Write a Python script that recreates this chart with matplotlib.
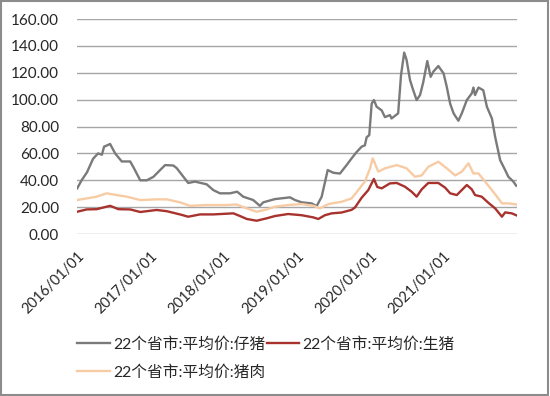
import matplotlib
matplotlib.use("Agg")
import matplotlib.pyplot as plt
import matplotlib.dates as mdates
from matplotlib.patches import Rectangle
import numpy as np

# 22个省市 平均价 (元/公斤)
piglet_dates = ["2016-01-02", "2016-01-24", "2016-02-20", "2016-03-21", "2016-04-15", "2016-05-04",
                "2016-05-15", "2016-06-14", "2016-07-09", "2016-08-11", "2016-09-22", "2016-10-07",
                "2016-11-11", "2016-12-14", "2017-01-16", "2017-02-18", "2017-03-15", "2017-04-25",
                "2017-05-12", "2017-06-14", "2017-07-08", "2017-08-11", "2017-10-08", "2017-11-10",
                "2017-12-13", "2018-02-01", "2018-03-09", "2018-04-08", "2018-05-28", "2018-06-30",
                "2018-07-17", "2018-09-13", "2018-11-27", "2018-12-22", "2019-01-24", "2019-03-15",
                "2019-04-09", "2019-05-04", "2019-06-03", "2019-07-01", "2019-08-03", "2019-09-05",
                "2019-09-30", "2019-10-25", "2019-11-19", "2019-12-05", "2019-12-14", "2019-12-27",
                "2020-01-08", "2020-01-19", "2020-02-02", "2020-02-27", "2020-03-14", "2020-04-08",
                "2020-04-16", "2020-05-19", "2020-06-02", "2020-06-18", "2020-06-30", "2020-07-17",
                "2020-08-02", "2020-08-19", "2020-09-05", "2020-09-21", "2020-10-11", "2020-10-28",
                "2020-11-10", "2020-12-05", "2020-12-31", "2021-01-16", "2021-02-02", "2021-02-19",
                "2021-03-15", "2021-04-01", "2021-04-26", "2021-05-21", "2021-05-29", "2021-06-06",
                "2021-06-23", "2021-07-17", "2021-08-04", "2021-08-29", "2021-09-14", "2021-10-09",
                "2021-11-03", "2021-11-19", "2021-12-14", "2021-12-28"]
piglet_vals = [34, 40, 46, 56, 60, 59, 65, 67, 60, 54, 54, 50,
               40, 40, 42.6, 47.6, 51.3, 51, 49, 42.6, 38, 39, 37, 32.7,
               30.3, 30.3, 31.5, 27.8, 25.3, 21, 23.6, 26, 27.3, 25.3, 23.6, 22.8,
               20.8, 27.8, 47.6, 45.6, 45, 51.3, 56.3, 61, 65, 66, 72, 73.6,
               97, 99.7, 94.7, 92, 87, 88.5, 86, 89.8, 118, 135, 129.5, 114.6,
               107, 99.7, 103.4, 113, 128.7, 117, 120.8, 125, 119.6, 109.6, 97, 89.8,
               84.3, 89.8, 99.7, 104.7, 109, 103.4, 109, 107, 94.7, 86, 72.4, 55,
               47.6, 42.6, 39, 36]

hog_dates = ["2016-01-02", "2016-02-18", "2016-04-08", "2016-06-14", "2016-07-25", "2016-09-22",
             "2016-11-11", "2017-02-01", "2017-03-23", "2017-05-28", "2017-07-08", "2017-09-05",
             "2017-11-10", "2018-02-18", "2018-03-23", "2018-04-26", "2018-06-14", "2018-08-03",
             "2018-09-13", "2018-11-18", "2019-01-24", "2019-03-23", "2019-04-17", "2019-05-20",
             "2019-06-23", "2019-08-11", "2019-09-30", "2019-10-17", "2019-11-19", "2019-12-22",
             "2020-01-19", "2020-02-05", "2020-02-27", "2020-04-08", "2020-05-12", "2020-06-22",
             "2020-07-25", "2020-08-19", "2020-09-13", "2020-10-16", "2020-12-05", "2021-01-08",
             "2021-02-02", "2021-03-07", "2021-04-26", "2021-05-21", "2021-06-06", "2021-07-09",
             "2021-08-11", "2021-09-14", "2021-10-18", "2021-11-03", "2021-12-06", "2021-12-28"]
hog_vals = [16.6, 18.3, 18.5, 21, 18.5, 18.3,
            16.4, 17.9, 17, 14.6, 12.9, 14.6,
            14.6, 15.4, 13.4, 11.2, 9.9, 11.7,
            13.4, 14.9, 14, 12.4, 11.2, 14,
            15.4, 16, 18, 19.8, 27, 32.7,
            41, 35, 34, 37.7, 38, 35.2,
            31.5, 27.8, 33.2, 38, 38, 34.5,
            30.3, 29, 36.5, 33.2, 29, 27.8,
            23.3, 19.1, 12.9, 16.1, 15.4, 14]

pork_dates = ["2016-01-02", "2016-02-18", "2016-04-08", "2016-05-28", "2016-07-17", "2016-09-05",
              "2016-11-11", "2017-02-01", "2017-03-23", "2017-05-28", "2017-07-17", "2017-10-08",
              "2018-01-16", "2018-03-06", "2018-04-26", "2018-06-14", "2018-08-03", "2018-09-13",
              "2018-11-18", "2019-01-24", "2019-03-25", "2019-04-25", "2019-06-06", "2019-08-11",
              "2019-09-30", "2019-11-02", "2019-12-05", "2019-12-31", "2020-01-13", "2020-01-24",
              "2020-02-10", "2020-03-14", "2020-05-12", "2020-06-30", "2020-08-11", "2020-09-13",
              "2020-10-16", "2020-12-05", "2021-01-16", "2021-02-27", "2021-04-01", "2021-05-04",
              "2021-05-29", "2021-06-23", "2021-07-26", "2021-08-29", "2021-09-30", "2021-10-18",
              "2021-11-19", "2021-12-28"]
pork_vals = [25.3, 26.5, 27.8, 30.3, 29, 27.8,
             25.3, 25.8, 25.8, 23.6, 21, 21.6,
             21.6, 22, 19.1, 16.6, 18.3, 20.3,
             21.6, 22.3, 21, 19.1, 22.3, 24,
             26.5, 32.7, 39, 48.9, 56.3, 52.6,
             46.4, 48.9, 51.3, 48.9, 42.6, 43.6,
             50, 53.8, 48.9, 43.6, 46.4, 52.6,
             45.1, 45.1, 39, 32.7, 26.5, 22.8,
             22.8, 22]

labels = ["22个省市:平均价:仔猪", "22个省市:平均价:生猪", "22个省市:平均价:猪肉"]
colors = ["#7a7a7a", "#a8322d", "#f7cba4"]
year_ticks = ["2016-01-01", "2017-01-01", "2018-01-01", "2019-01-01", "2020-01-01", "2021-01-01"]

plt.rcParams['font.family'] = ['Lato', 'Noto Sans CJK SC', 'DejaVu Sans']

fig = plt.figure(figsize=(5.5, 3.96), dpi=100)
ax = fig.add_axes([0.14, 0.409, 0.80, 0.543])

series = [(piglet_dates, piglet_vals), (hog_dates, hog_vals), (pork_dates, pork_vals)]
lines = []
for (d, v), lab, col in zip(series, labels, colors):
    ln, = ax.plot(np.array(d, dtype="datetime64[D]"), v, color=col, linewidth=1.7,
                  label=lab, solid_joinstyle="round", zorder=3)
    lines.append(ln)

ax.set_ylim(0, 160)
ax.set_yticks(np.arange(0, 161, 20))
ax.yaxis.set_major_formatter(matplotlib.ticker.FormatStrFormatter("%.2f"))
ax.set_xlim(np.datetime64("2016-01-01"), np.datetime64("2022-01-01"))
ax.set_xticks(np.array(year_ticks, dtype="datetime64[D]"))
ax.xaxis.set_major_formatter(mdates.DateFormatter("%Y/%m/%d"))
for lbl in ax.get_xticklabels():
    lbl.set_rotation(45)
    lbl.set_ha("right")
    lbl.set_rotation_mode("anchor")

ax.grid(axis="y", color="#a6a6a6", linewidth=1.0)
ax.grid(axis="x", visible=False)
ax.set_axisbelow(True)
for s in ax.spines.values():
    s.set_visible(False)
ax.tick_params(axis="both", length=0, colors="#262626", labelsize=11)
ax.tick_params(axis="y", pad=13)
ax.tick_params(axis="x", pad=11, labelsize=10.5)

leg = fig.legend([lines[0], lines[2], lines[1]], [labels[0], labels[2], labels[1]],
                 ncol=2, loc="upper left", bbox_to_anchor=(0.115, 0.185),
                 frameon=False, handlelength=2.1, handletextpad=0.2, columnspacing=0.05,
                 labelspacing=0.85, prop={"family": ["Lato", "Noto Sans CJK SC"], "size": 11.3})
for t in leg.get_texts():
    t.set_color("#262626")

fig.patches.append(Rectangle((0.002, 0.003), 0.995, 0.994, transform=fig.transFigure,
                             fill=False, edgecolor="#8c8c8c", linewidth=1.5))

fig.savefig("out.png", dpi=100)
